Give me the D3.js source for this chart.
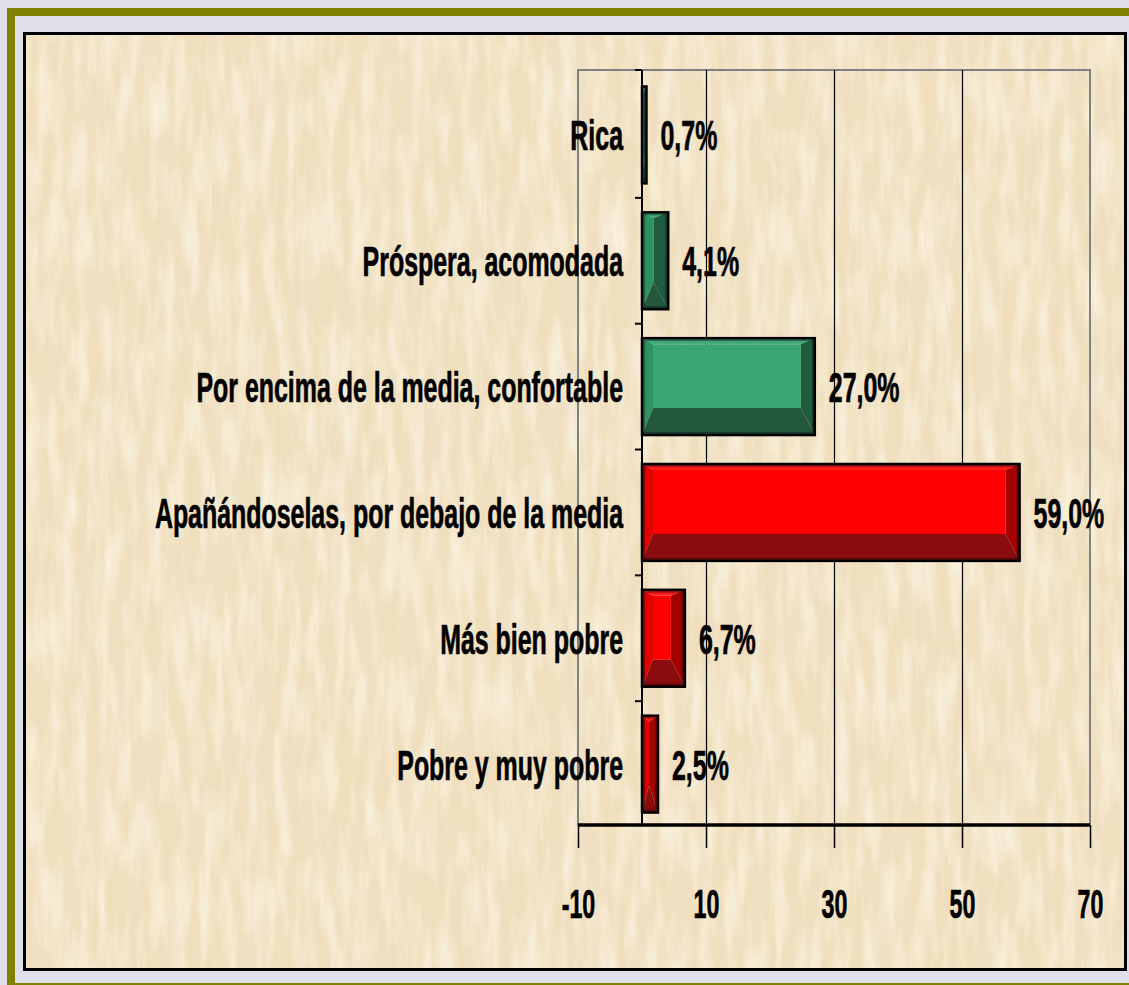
<!DOCTYPE html>
<html>
<head>
<meta charset="utf-8">
<script src="https://cdn.jsdelivr.net/npm/d3@7"></script>
<style>
  html, body { margin: 0; padding: 0; background: #e0e0ea; }
  svg { display: block; }
  text { font-family: "Liberation Sans", Arial, sans-serif; font-weight: bold; fill: #000; stroke: #000; stroke-width: 0.7px; }
</style>
</head>
<body>
<div class="chart"></div>
<script>
// datos
var categorias = [
  "Rica",
  "Próspera, acomodada",
  "Por encima de la media, confortable",
  "Apañándoselas, por debajo de la media",
  "Más bien pobre",
  "Pobre y muy pobre"
];
var valores = [0.7, 4.1, 27.0, 59.0, 6.7, 2.5];
var ticksX = [-10, 10, 30, 50, 70];
var dominioX = [-10, 70];

// tamaño del svg
var svgW = 1129;
var svgH = 985;

// zona de dibujo
var plot = { left: 578, right: 1090, top: 70, bottom: 825 };
var squeeze = 0.58;   // el texto del original esta muy estrechado

var es = d3.formatLocale({ decimal: ",", thousands: ".", grouping: [3], currency: ["", " €"] });
var fmt = es.format(".1f");

var svg = d3.select(".chart")
  .append("svg")
  .attr("width", svgW)
  .attr("height", svgH);

// textura de pergamino
var defs = svg.append("defs");
var filtro = defs.append("filter")
  .attr("id", "papel")
  .attr("x", 0).attr("y", 0).attr("width", "100%").attr("height", "100%");
filtro.append("feTurbulence")
  .attr("type", "fractalNoise")
  .attr("baseFrequency", "0.045 0.006")
  .attr("numOctaves", 4)
  .attr("seed", 11)
  .attr("result", "ruido");
filtro.append("feColorMatrix")
  .attr("in", "ruido")
  .attr("type", "matrix")
  .attr("values", "0 0 0 0 0.88  0 0 0 0 0.76  0 0 0 0 0.60  1.2 0 0 0 -0.5")
  .attr("result", "manchas");
filtro.append("feTurbulence")
  .attr("type", "fractalNoise")
  .attr("baseFrequency", "0.08 0.015")
  .attr("numOctaves", 3)
  .attr("seed", 3)
  .attr("result", "ruido2");
filtro.append("feColorMatrix")
  .attr("in", "ruido2")
  .attr("type", "matrix")
  .attr("values", "0 0 0 0 1  0 0 0 0 0.96  0 0 0 0 0.84  1.3 0 0 0 -0.52")
  .attr("result", "brillos");
var merge = filtro.append("feMerge");
merge.append("feMergeNode").attr("in", "SourceGraphic");
merge.append("feMergeNode").attr("in", "manchas");
merge.append("feMergeNode").attr("in", "brillos");

// marco verde oliva
svg.append("rect")
  .attr("x", 11).attr("y", 12)
  .attr("width", svgW + 20).attr("height", 975)
  .attr("fill", "none")
  .attr("stroke", "#808000")
  .attr("stroke-width", 8);

// fondo del grafico
svg.append("rect")
  .attr("x", 24.5).attr("y", 33.5)
  .attr("width", 1101).attr("height", 936)
  .attr("fill", "#f0dfbd")
  .attr("filter", "url(#papel)");
svg.append("rect")
  .attr("x", 24.5).attr("y", 33.5)
  .attr("width", 1101).attr("height", 936)
  .attr("fill", "none")
  .attr("stroke", "#000")
  .attr("stroke-width", 3);

// escalas
var x = d3.scaleLinear().domain(dominioX).range([plot.left, plot.right]);
var y = d3.scaleBand()
  .domain(categorias)
  .range([plot.top, plot.bottom])
  .paddingInner(0.23)
  .paddingOuter(0.115)
  .align(0.57);

var color = d3.scaleOrdinal()
  .domain(categorias)
  .range(["v", "v", "v", "r", "r", "r"]);

var tonos = {
  v: { cara: "#3aa673", arriba: "#42ad7b", izq: "#30935f", der: "#1f5c40", abajo: "#23583d" },
  r: { cara: "#ff0000", arriba: "#ff1c1c", izq: "#e00000", der: "#a30000", abajo: "#8b0c0c" }
};

// marco gris de la zona de dibujo
svg.append("rect")
  .attr("x", plot.left).attr("y", plot.top)
  .attr("width", plot.right - plot.left).attr("height", plot.bottom - plot.top)
  .attr("fill", "none")
  .attr("stroke", "#808080")
  .attr("stroke-width", 2);

// lineas de division
svg.append("g")
  .selectAll("line")
  .data(ticksX.filter(function(d) { return d > dominioX[0] && d < dominioX[1]; }))
  .enter().append("line")
  .attr("x1", function(d) { return Math.round(x(d)) + 0.5; })
  .attr("x2", function(d) { return Math.round(x(d)) + 0.5; })
  .attr("y1", plot.top)
  .attr("y2", plot.bottom)
  .attr("stroke", "#000")
  .attr("stroke-width", 1.2);

// barras con bisel
function bisel(g, x0, y0, x1, y1, t) {
  var L = 11, R = 14, T = 6, B = 27;
  var w = x1 - x0;
  if (L + R > w - 2) {
    var k = w / (L + R);
    L = L * k; R = R * k;
  }
  var ix0 = x0 + L, ix1 = x1 - R, iy0 = y0 + T, iy1 = y1 - B;
  function poly(p, c) {
    g.append("polygon")
      .attr("points", p.map(function(q) { return q.join(","); }).join(" "))
      .attr("fill", c);
  }
  poly([[ix0, iy0], [ix1, iy0], [ix1, iy1], [ix0, iy1]], t.cara);
  poly([[x0, y0], [x1, y0], [ix1, iy0], [ix0, iy0]], t.arriba);
  poly([[x0, y0], [ix0, iy0], [ix0, iy1], [x0, y1]], t.izq);
  poly([[x1, y0], [x1, y1], [ix1, iy1], [ix1, iy0]], t.der);
  poly([[x0, y1], [ix0, iy1], [ix1, iy1], [x1, y1]], t.abajo);
  g.append("rect")
    .attr("x", x0 + 2).attr("y", y0 + 2)
    .attr("width", Math.max(0, w - 4)).attr("height", y1 - y0 - 4)
    .attr("fill", "none")
    .attr("stroke", "rgba(0,0,0,0.35)")
    .attr("stroke-width", 2);
  g.append("rect")
    .attr("x", x0).attr("y", y0)
    .attr("width", w).attr("height", y1 - y0)
    .attr("fill", "none")
    .attr("stroke", "#000")
    .attr("stroke-width", 2.5);
}

var barras = svg.append("g");
categorias.forEach(function(c, i) {
  var g = barras.append("g");
  bisel(g, x(0), y(c), x(valores[i]), y(c) + y.bandwidth(), tonos[color(c)]);
});

// etiquetas de valor
svg.append("g")
  .selectAll("text")
  .data(categorias)
  .enter().append("text")
  .attr("transform", function(d, i) {
    return "translate(" + (x(valores[i]) + 14) + "," + (y(d) + y.bandwidth() / 2) + ") scale(" + squeeze + ",1)";
  })
  .attr("dy", "0.36em")
  .attr("font-size", 43)
  .text(function(d, i) { return fmt(valores[i]) + "%"; });

// eje y
var ejeY = svg.append("g");
ejeY.append("line")
  .attr("x1", x(0)).attr("x2", x(0))
  .attr("y1", plot.top).attr("y2", plot.bottom)
  .attr("stroke", "#000")
  .attr("stroke-width", 2);
var limites = categorias.map(function(c) { return y(c) - y.step() * y.paddingInner() / 2; });
limites[0] = plot.top;
limites.push(plot.bottom);
ejeY.selectAll(".tick")
  .data(limites)
  .enter().append("line")
  .attr("x1", x(0) - 7).attr("x2", x(0))
  .attr("y1", function(d) { return d; })
  .attr("y2", function(d) { return d; })
  .attr("stroke", "#000")
  .attr("stroke-width", 2);

ejeY.selectAll("text")
  .data(categorias)
  .enter().append("text")
  .attr("transform", function(d) {
    return "translate(" + (x(0) - 19) + "," + (y(d) + y.bandwidth() / 2) + ") scale(" + squeeze + ",1)";
  })
  .attr("dy", "0.36em")
  .attr("text-anchor", "end")
  .attr("font-size", 43)
  .text(function(d) { return d; });

// eje x
var ejeX = svg.append("g")
  .attr("transform", "translate(0," + plot.bottom + ")")
  .call(d3.axisBottom(x).tickValues(ticksX).tickSize(23).tickFormat(function(d) { return String(d); }));
ejeX.select(".domain")
  .attr("stroke", "#000")
  .attr("stroke-width", 3.5)
  .attr("d", "M" + x(dominioX[0]) + ",0H" + x(dominioX[1]));
ejeX.selectAll(".tick line")
  .attr("stroke", "#000")
  .attr("stroke-width", 1.5);
ejeX.selectAll(".tick text")
  .attr("y", 93)
  .attr("dy", 0)
  .attr("font-size", 40)
  .attr("font-family", "'Liberation Sans', Arial, sans-serif")
  .attr("font-weight", "bold")
  .attr("fill", "#000")
  .attr("transform", "scale(" + squeeze + ",1)");
</script>
</body>
</html>
